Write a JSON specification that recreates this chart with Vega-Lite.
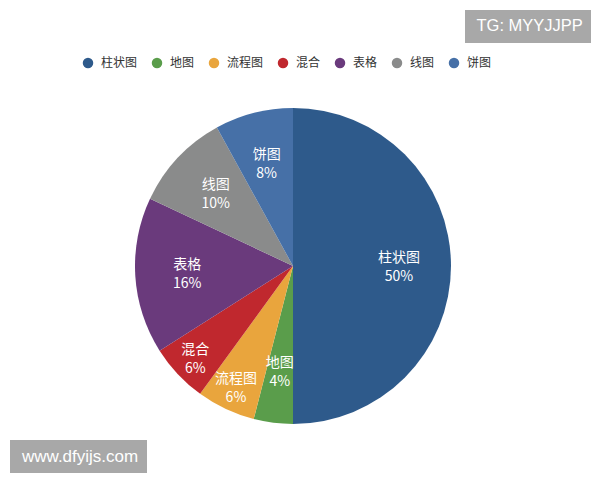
{
  "$schema": "https://vega.github.io/schema/vega-lite/v6.json",
  "description": "Pie chart of chart types with white in-slice labels.",
  "autosize": {"type": "none"},
  "width": 316,
  "height": 316,
  "padding": {"left": 135, "top": 108, "right": 149, "bottom": 56},
  "background": "white",
  "data": {
    "values": [
      {"idx": 1, "name": "柱状图", "value": 50},
      {"idx": 2, "name": "地图", "value": 4},
      {"idx": 3, "name": "流程图", "value": 6},
      {"idx": 4, "name": "混合", "value": 6},
      {"idx": 5, "name": "表格", "value": 16},
      {"idx": 6, "name": "线图", "value": 10},
      {"idx": 7, "name": "饼图", "value": 8}
    ]
  },
  "transform": [
    {"stack": "value", "groupby": [], "sort": [{"field": "idx", "order": "ascending"}], "as": ["v0", "v1"]},
    {"calculate": "(datum.v0 + datum.v1) / 2", "as": "mid"},
    {"calculate": "datum.name + '\\n' + datum.value + '%'", "as": "label"}
  ],
  "layer": [
    {
      "mark": {"type": "arc", "outerRadius": 158, "stroke": null},
      "encoding": {
        "theta": {"field": "v0", "type": "quantitative", "scale": {"domain": [0, 100]}},
        "theta2": {"field": "v1"},
        "color": {
          "field": "name",
          "type": "nominal",
          "sort": ["柱状图", "地图", "流程图", "混合", "表格", "线图", "饼图"],
          "scale": {
            "domain": ["柱状图", "地图", "流程图", "混合", "表格", "线图", "饼图"],
            "range": ["#2e5a8b", "#5a9d4b", "#e9a53d", "#c0282e", "#6a3a7c", "#8a8b8b", "#4670a7"]
          },
          "legend": {
            "title": null,
            "orient": "none",
            "direction": "horizontal",
            "legendX": -53,
            "legendY": -51,
            "symbolType": "circle",
            "symbolSize": 110,
            "symbolStrokeWidth": 0,
            "labelFontSize": 12,
            "labelColor": "#333333",
            "labelFont": "Noto Sans CJK SC",
            "labelOffset": 7,
            "columnPadding": 13
          }
        },
        "opacity": {
          "datum": "www.dfyijs.com",
          "type": "ordinal",
          "scale": {"range": [1, 1]},
          "legend": {
            "title": null,
            "orient": "none",
            "legendX": -125,
            "legendY": 332,
            "fillColor": "#a8a8a8",
            "padding": 8,
            "symbolSize": 0,
            "symbolOpacity": 0,
            "labelOffset": -13,
            "labelFontSize": 17,
            "labelColor": "white",
            "labelFont": "Liberation Sans"
          }
        }
      }
    },
    {
      "transform": [{"filter": "datum.name != '混合' && datum.name != '流程图'"}],
      "mark": {
        "type": "text",
        "radius": 106,
        "dy": -8,
        "color": "white",
        "fontSize": 14,
        "lineBreak": "\n",
        "lineHeight": 19,
        "align": "center",
        "baseline": "middle",
        "font": "Noto Sans CJK SC"
      },
      "encoding": {
        "theta": {"field": "mid", "type": "quantitative"},
        "text": {"field": "label", "type": "nominal"},
        "opacity": {
          "datum": "TG: MYYJJPP",
          "type": "ordinal",
          "scale": {"range": [1, 1]},
          "legend": {
            "title": null,
            "orient": "none",
            "legendX": 330,
            "legendY": -98,
            "fillColor": "#a8a8a8",
            "padding": 8,
            "symbolSize": 0,
            "symbolOpacity": 0,
            "labelOffset": -13,
            "labelFontSize": 16.5,
            "labelColor": "white",
            "labelFont": "Liberation Sans"
          }
        }
      }
    },
    {
      "transform": [{"filter": "datum.name == '混合' || datum.name == '流程图'"}],
      "mark": {
        "type": "text",
        "radius": 134,
        "dy": -8,
        "color": "white",
        "fontSize": 14,
        "lineBreak": "\n",
        "lineHeight": 19,
        "align": "center",
        "baseline": "middle",
        "font": "Noto Sans CJK SC"
      },
      "encoding": {
        "theta": {"field": "mid", "type": "quantitative"},
        "text": {"field": "label", "type": "nominal"}
      }
    }
  ],
  "resolve": {
    "scale": {"opacity": "independent"},
    "legend": {"opacity": "independent"}
  },
  "config": {"view": {"stroke": null}}
}
